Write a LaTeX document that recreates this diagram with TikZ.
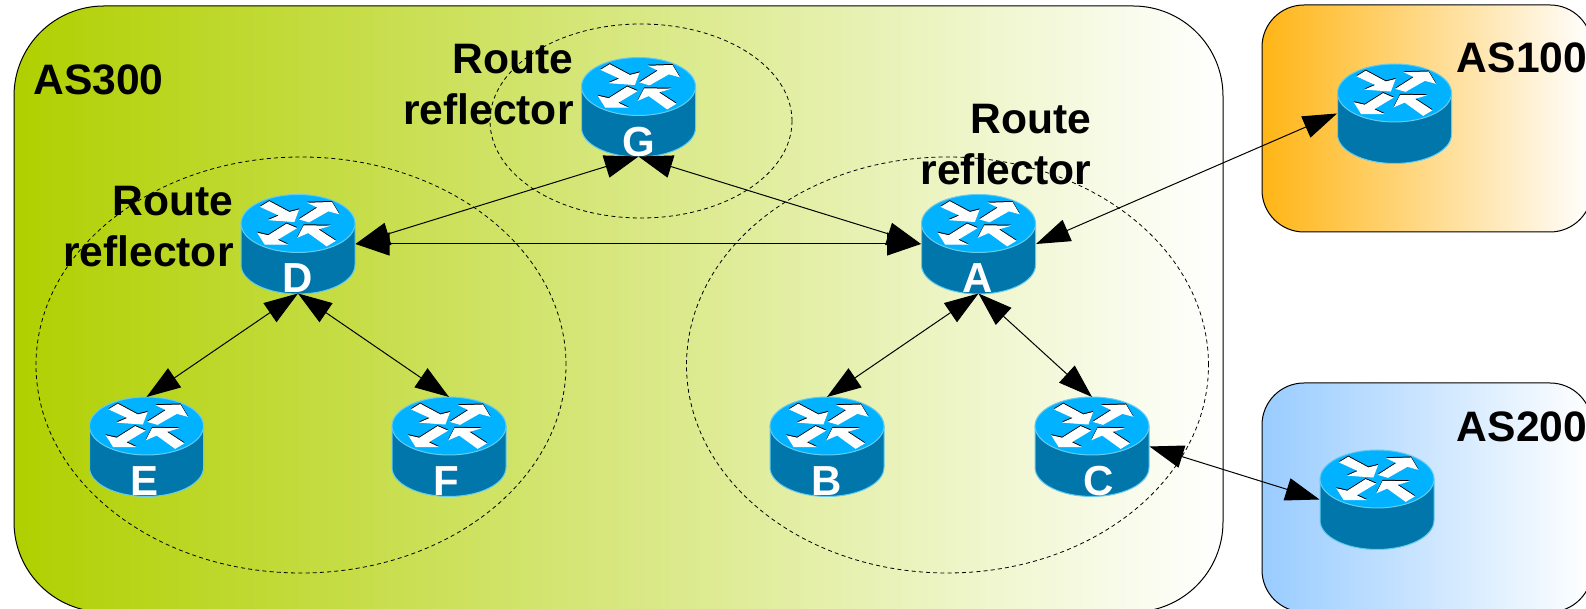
\documentclass[tikz,border=0pt]{standalone}
\usepackage{fontspec}
\setmainfont{Liberation Sans}
\usetikzlibrary{arrows.meta}

\definecolor{asgreen}{HTML}{B0D000}
\definecolor{asorange}{HTML}{FFB515}
\definecolor{asblue}{HTML}{99CCFF}
\definecolor{routertop}{HTML}{00B2FF}
\definecolor{routerside}{HTML}{0076AA}
\definecolor{routerrim}{HTML}{66CCEE}

\tikzset{
  asbox/.style={draw=black,line width=0.5pt,right color=white},
  astext/.style={font=\fontsize{21.3}{25.5}\selectfont\bfseries,inner sep=0pt,anchor=base west},
  rrtext/.style={font=\fontsize{21.3}{25.5}\selectfont\bfseries,inner sep=0pt,align=right,anchor=base east},
  zone/.style={draw=black,line width=0.4pt,dash pattern=on 2pt off 1.6pt},
  routerbox/.style={minimum width=57.5pt,minimum height=49.5pt,inner sep=0pt,outer sep=0pt},
  routertext/.style={font=\fontsize{21}{22}\selectfont\bfseries,text=white,inner sep=0pt,anchor=base},
  link/.style={<->,>={Triangle[length=17pt,width=11.5pt]},line width=0.5pt},
}

\newcommand{\routerarrows}{
  (-37,16.7) -- (-28.7,21.7) -- (-8.7,11) -- (0.3,13.3) -- (-4,2) -- (-28,3.7) -- (-18,8) -- cycle
  (2,4.3) -- (20.3,16) -- (11.3,20.3) -- (33.7,21) -- (40.3,10) -- (30.3,12.7) -- (11,1.7) -- cycle
  (-11.3,-0.7) -- (-2,-4.7) -- (-21.3,-16.3) -- (-12,-20.7) -- (-33,-20.7) -- (-39.7,-10) -- (-29.7,-12.3) -- cycle
  (37,-17.3) -- (28.7,-22.3) -- (10.3,-9) -- (0.3,-13.3) -- (6,-2.3) -- (29.3,-2.7) -- (19.3,-5.7) -- cycle
}

\newcommand{\router}[2]{
  \node[routerbox] (#1) at (#2) {};
  \begin{scope}[shift={(#1.center)}]
    \filldraw[fill=routerside,draw=routerrim,line width=0.5pt]
      (-57,20.5) -- (-57,-21) arc[start angle=180,end angle=360,x radius=57,y radius=29] -- (57,20.5) -- cycle;
    \filldraw[fill=routertop,draw=routerrim,line width=0.5pt] (0,20.5) ellipse [x radius=57,y radius=29];
    \begin{scope}[shift={(0,20.5)}]
      \filldraw[black,line width=0.5pt,shift={(0,1)}] \routerarrows;
      \filldraw[white,line width=0.5pt] \routerarrows;
    \end{scope}
  \end{scope}
}

\begin{document}
\begin{tikzpicture}[x=0.5pt,y=0.5pt]
\useasboundingbox (0,0) rectangle (1586,609);

% autonomous systems
\draw[asbox,left color=asgreen,rounded corners=45pt] (14,603) rectangle (1223,-3);
\draw[asbox,left color=asorange,rounded corners=21pt] (1262,604) rectangle (1592,377);
\draw[asbox,left color=asblue,rounded corners=21pt] (1262,226) rectangle (1592,-3);

\node[astext] (as300) at (33,514) {AS300};
\node[astext] (as100) at (1456.5,536) {AS100};
\node[astext] (as200) at (1456.5,167) {AS200};

\node[rrtext] (rrG) at (574,484) {Route\\reflector};
\node[rrtext] (rrD) at (234,342) {Route\\reflector};
\node[rrtext] (rrA) at (1091.5,424) {Route\\reflector};

% reflector clusters
\draw[zone] (641,488) ellipse [x radius=151,y radius=97];
\draw[zone] (301,244) ellipse [x radius=265,y radius=208];
\draw[zone] (947.5,244) ellipse [x radius=261,y radius=208];

% routers
\router{G}{638.5,502}
\router{D}{298,365}
\router{A}{978.5,365}
\router{E}{146.5,162.5}
\router{F}{449,162.5}
\router{B}{827,162.5}
\router{C}{1092,162.5}
\router{R1}{1394.5,495.5}
\router{R2}{1377,109.5}

\node[routertext] (Gtext) at (639,452) {G};
\node[routertext] (Dtext) at (297.5,316) {D};
\node[routertext] (Atext) at (977.5,316) {A};
\node[routertext] (Etext) at (145,113) {E};
\node[routertext] (Ftext) at (446,113) {F};
\node[routertext] (Btext) at (827,113) {B};
\node[routertext] (Ctext) at (1099,113) {C};

% sessions
\draw[link] (D.east) -- (A.west);
\draw[link] (G.south) -- (D.east);
\draw[link] (G.south) -- (A.west);
\draw[link] (D.south) -- (E.north);
\draw[link] (D.south) -- (F.north);
\draw[link] (A.south) -- (B.north);
\draw[link] (A.south) -- (C.north);
\draw[link] (A.east) -- (R1.west);
\draw[link] (C.east) -- (R2.west);
\end{tikzpicture}
\end{document}
